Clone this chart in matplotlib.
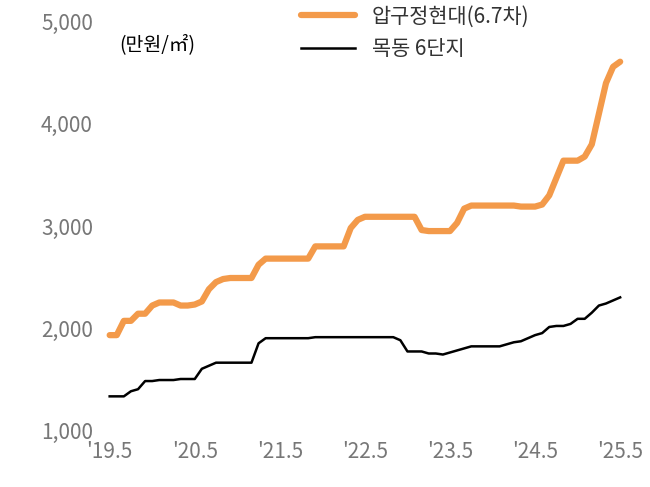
import matplotlib
matplotlib.use("Agg")
import matplotlib.pyplot as plt
from matplotlib import font_manager

names = {f.name for f in font_manager.fontManager.ttflist}
cands = [n for n in ["Noto Sans CJK KR", "Noto Sans CJK JP", "Noto Sans CJK SC",
                     "Noto Sans CJK TC", "Noto Sans CJK"] if n in names]
cands += [n for n in sorted(names) if "CJK" in n]
plt.rcParams["font.family"] = cands + ["DejaVu Sans"]

tick_labels = ["'19.5", "'20.5", "'21.5", "'22.5", "'23.5", "'24.5", "'25.5"]
apgujeong = ([1930, 1930, 2070, 2070, 2140, 2140, 2220, 2250, 2250, 2250, 2220, 2220, 2230,
              2260, 2380, 2450, 2480, 2490, 2490, 2490, 2490, 2620, 2680] + [2680] * 6 +
             [2800] * 5 + [2980, 3060] + [3090] * 8 + [2960] + [2950] * 4 + [3030, 3170] +
             [3200] * 7 + [3190] * 3 + [3210, 3300, 3470, 3640, 3640, 3640, 3680, 3800,
                                        4100, 4400, 4560, 4610])
mokdong = ([1330, 1330, 1330, 1380, 1400, 1480, 1480, 1490, 1490, 1490, 1500, 1500, 1500,
            1600, 1630] + [1660] * 6 + [1850] + [1900] * 7 + [1910] * 12 +
           [1880, 1770, 1770, 1770, 1750, 1750, 1740, 1760, 1780, 1800] + [1820] * 5 +
           [1840, 1860, 1870, 1900, 1930, 1950, 2010, 2020, 2020, 2040, 2090, 2090, 2150,
            2220, 2240, 2270, 2300])

fig, ax = plt.subplots(figsize=(6.5, 4.87), dpi=100)
fig.subplots_adjust(left=0.16, right=0.965, top=0.955, bottom=0.117)
x = list(range(len(apgujeong)))
ax.plot(x, apgujeong, color="#F39A4A", lw=4.5, label="압구정현대(6.7차)", solid_capstyle="round")
ax.plot(range(len(mokdong)), mokdong, color="black", lw=1.8, label="목동 6단지")

ax.set_ylim(1000, 5000)
ax.set_xlim(-0.8, 73)
ax.set_yticks(range(1000, 5001, 1000))
ax.set_yticklabels([f"{v:,}" for v in range(1000, 5001, 1000)])
ax.set_xticks(range(0, 73, 12))
ax.set_xticklabels(tick_labels)
for s in ax.spines.values():
    s.set_visible(False)
ax.tick_params(length=0, labelsize=15, colors="#777777", pad=8)
ax.text(0.03, 0.97, "(만원/㎡)", transform=ax.transAxes, fontsize=14, va="top", ha="left")
ax.legend(loc="upper left", bbox_to_anchor=(0.36, 1.06), frameon=False, fontsize=15,
          handlelength=2.6, labelcolor="#333333", borderaxespad=0)
fig.savefig("out.png")
